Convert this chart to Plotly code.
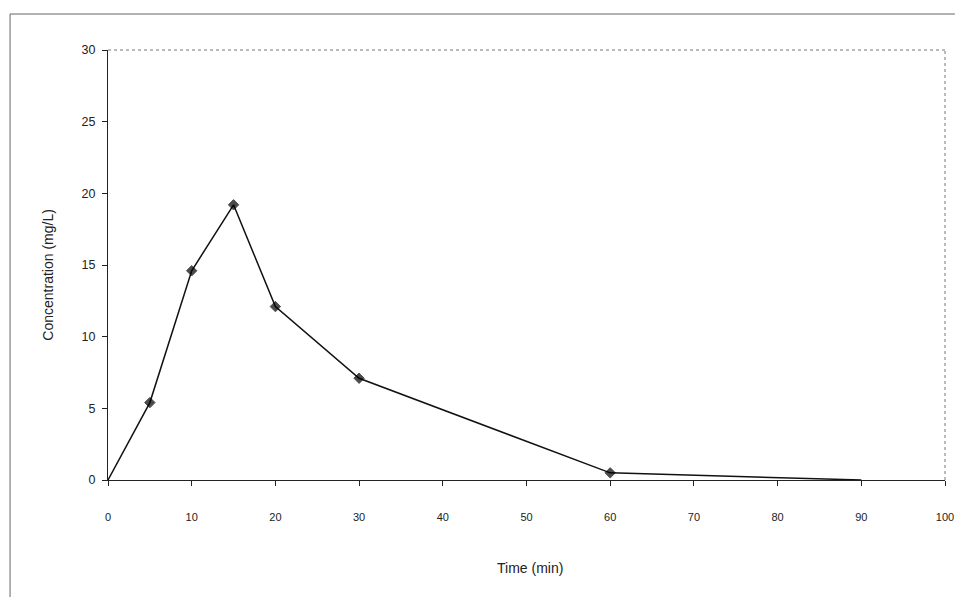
import plotly.graph_objects as go

time_min = [0, 5, 10, 15, 20, 30, 60, 90]
concentration = [0, 5.4, 14.6, 19.2, 12.1, 7.1, 0.5, 0.0]
marker_sizes = [0, 8, 8, 8, 8, 8, 8, 0]

x_ticks = [0, 10, 20, 30, 40, 50, 60, 70, 80, 90, 100]
y_ticks = [0, 5, 10, 15, 20, 25, 30]

# page is rendered with an 8px body margin; keep everything inside the figure
OFF = 8
W, H = 956, 589
PL, PR, PT, PB = 108, 954, 50, 480   # plot area in page pixels
L, T = PL - OFF, PT - OFF
R = (OFF + W) - PR
B = (OFF + H) - PB
pw, ph = PR - PL, PB - PT

def px_x(px):
    return (px - PL) / pw

def px_y(py):
    return (PB - py) / ph

fig = go.Figure()
fig.add_trace(go.Scatter(
    x=time_min, y=concentration, mode="lines+markers",
    line=dict(color="#111111", width=1.5),
    marker=dict(symbol="diamond", size=marker_sizes, color="#000000",
                line=dict(width=1, color="#000000")),
    showlegend=False, cliponaxis=False,
))

fig.update_layout(
    width=W, height=H,
    margin=dict(l=L, r=R, t=T, b=B),
    paper_bgcolor="white", plot_bgcolor="white",
    font=dict(family="Liberation Sans, Arial, sans-serif", color="#222222", size=11),
    xaxis=dict(range=[0, 100], tickvals=x_ticks, ticks="outside", ticklen=5,
               tickcolor="#222", showline=True, linecolor="#222", linewidth=1,
               showgrid=False, zeroline=False, ticklabelstandoff=22,
               tickfont=dict(size=11), ticklabeloverflow="allow"),
    yaxis=dict(range=[0, 30], tickvals=y_ticks, ticks="outside", ticklen=5,
               tickcolor="#222", showline=True, linecolor="#222", linewidth=1,
               showgrid=False, zeroline=False, ticklabelstandoff=4,
               tickfont=dict(size=12.5)),
    shapes=[
        # plot area top and right dotted border
        dict(type="line", xref="paper", yref="paper", x0=0, x1=1, y0=1, y1=1,
             line=dict(color="#777", width=1, dash="dot")),
        dict(type="line", xref="paper", yref="paper", x0=1, x1=1, y0=0, y1=1,
             line=dict(color="#777", width=1, dash="dot")),
        # outer chart frame (ends at the figure edge)
        dict(type="line", xref="paper", yref="paper", x0=px_x(9), x1=px_x(OFF + W),
             y0=px_y(14), y1=px_y(14), line=dict(color="#666", width=1)),
        dict(type="line", xref="paper", yref="paper", x0=px_x(9), x1=px_x(9),
             y0=px_y(14), y1=px_y(OFF + H), line=dict(color="#666", width=1)),
    ],
    annotations=[
        dict(text="Time (min)", xref="paper", yref="paper",
             x=px_x(535), y=px_y(568), showarrow=False,
             xanchor="center", yanchor="middle", font=dict(size=14, color="#222")),
        dict(text="Concentration (mg/L)", xref="paper", yref="paper",
             x=px_x(47), y=px_y(275), showarrow=False, textangle=-90,
             xanchor="center", yanchor="middle", font=dict(size=14, color="#222")),
    ],
)

fig.write_html("out.html", config={"displayModeBar": False})
